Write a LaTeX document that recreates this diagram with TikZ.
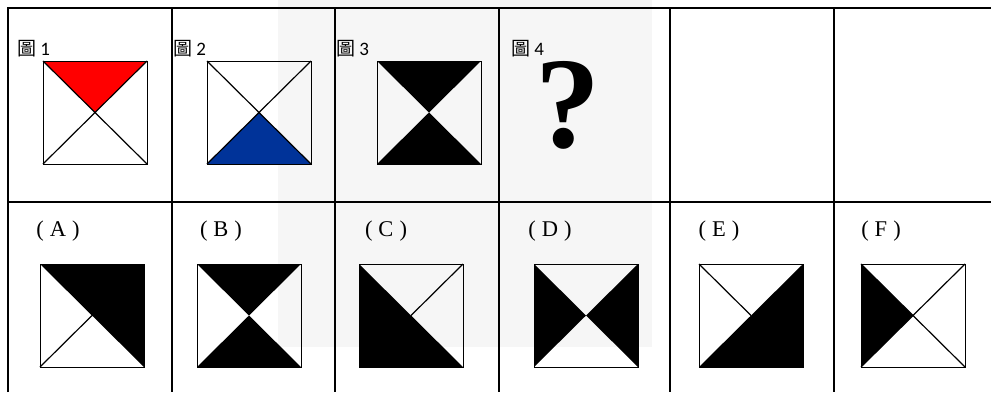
\documentclass[tikz,border=0pt]{standalone}
\usepackage{fontspec}
\setmainfont{Liberation Serif}
\newfontfamily\cjk{Noto Sans CJK TC}
\newfontfamily\calfont{Carlito}
\definecolor{figred}{RGB}{255,0,0}
\definecolor{figblue}{RGB}{0,51,153}
\definecolor{wm}{RGB}{246,246,246}
\tikzset{
  grid/.style={line width=2pt, black},
  sqline/.style={line width=1pt, black},
  diag/.style={line width=1.2pt, black},
  figlabel/.style={anchor=base west, inner sep=0pt, font=\fontsize{19}{22}\selectfont},
  optlabel/.style={anchor=base, inner sep=0pt, font=\fontsize{22.5}{25}\selectfont},
}
\newcommand\optl[1]{(\hspace{6pt}#1\hspace{6pt})}
% #1 x, #2 y, #3 fills and inner lines
\newcommand\tilebox[3]{%
  \begin{scope}[shift={(#1,#2)}]
    \coordinate (tl) at (0,0);
    \coordinate (tr) at (104,0);
    \coordinate (br) at (104,103);
    \coordinate (bl) at (0,103);
    \coordinate (c) at (52,51.5);
    #3
    \draw[sqline] (tl) rectangle (br);
  \end{scope}}
\begin{document}
\begin{tikzpicture}[x=1pt,y=-1pt]
\useasboundingbox (0,0) rectangle (991,392);
\fill[wm] (278,0) rectangle (652,347);
% table
\draw[grid] (8,392) -- (8,8) -- (991,8);
\draw[grid] (8,202) -- (991,202);
\foreach \cx in {172,335,499,670,834} \draw[grid] (\cx,8) -- (\cx,392);
% top row labels
\node[figlabel] (l1) at (17,55) {\cjk 圖 \calfont 1};
\node[figlabel] (l2) at (173,55) {\cjk 圖 \calfont 2};
\node[figlabel] (l3) at (336,55) {\cjk 圖 \calfont 3};
\node[figlabel] (l4) at (511,55) {\cjk 圖 \calfont 4};
% figures
\tilebox{43}{61}{\fill[figred] (tl) -- (tr) -- (c) -- cycle;
  \draw[diag] (tl) -- (br) (tr) -- (bl);}
\tilebox{207}{61}{\fill[figblue] (bl) -- (br) -- (c) -- cycle;
  \draw[diag] (tl) -- (br) (tr) -- (bl);}
\tilebox{377}{61}{\fill[black] (tl) -- (tr) -- (c) -- cycle (bl) -- (br) -- (c) -- cycle;}
\node[inner sep=0pt, font=\bfseries\fontsize{130}{140}\selectfont] (q) at (568,105) {?};
% options
\node[optlabel] (la) at (58,236) {\optl{A}};
\node[optlabel] (lb) at (221,236) {\optl{B}};
\node[optlabel] (lc) at (386,236) {\optl{C}};
\node[optlabel] (ld) at (550,236) {\optl{D}};
\node[optlabel] (le) at (719,236) {\optl{E}};
\node[optlabel] (lf) at (881,236) {\optl{F}};
\tilebox{40}{264}{\fill[black] (tl) -- (tr) -- (br) -- cycle;
  \draw[diag] (c) -- (bl);}
\tilebox{197}{264}{\fill[black] (tl) -- (tr) -- (c) -- cycle (bl) -- (br) -- (c) -- cycle;}
\tilebox{359}{264}{\fill[black] (tl) -- (bl) -- (br) -- cycle;
  \draw[diag] (c) -- (tr);}
\tilebox{534}{264}{\fill[black] (tl) -- (bl) -- (c) -- cycle (tr) -- (br) -- (c) -- cycle;}
\tilebox{699}{264}{\fill[black] (bl) -- (br) -- (tr) -- cycle;
  \draw[diag] (c) -- (tl);}
\tilebox{861}{264}{\fill[black] (tl) -- (bl) -- (c) -- cycle;
  \draw[diag] (tl) -- (br) (tr) -- (bl);}
\end{tikzpicture}
\end{document}
